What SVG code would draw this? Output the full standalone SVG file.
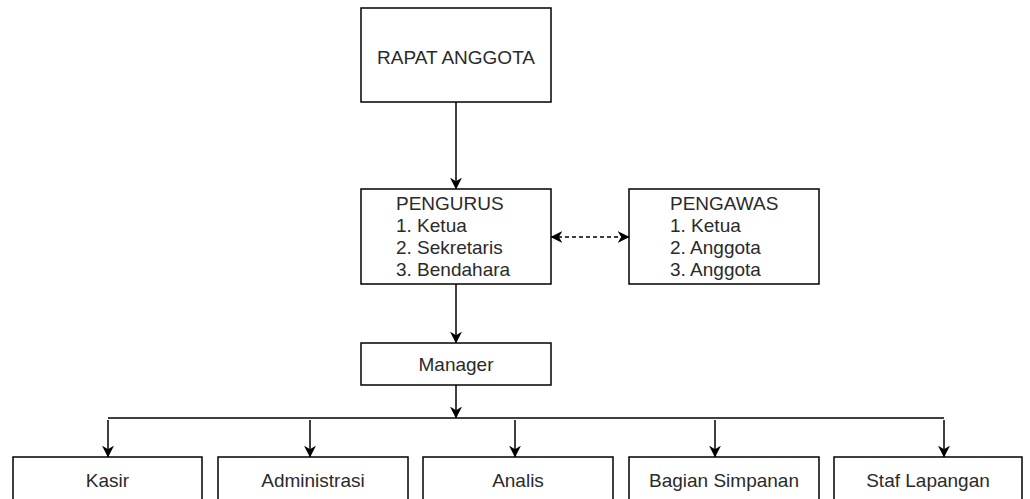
<svg xmlns="http://www.w3.org/2000/svg" width="1030" height="499" viewBox="0 0 1030 499">
<style>
.box{fill:#fff;stroke:#000;stroke-width:1.5}
.t{font-family:"Liberation Sans",Arial,sans-serif;font-size:19px;fill:#2a2a2a}
.c{text-anchor:middle}
.ln{fill:none;stroke:#000;stroke-width:1.5}
</style>
<defs>
<marker id="arr" viewBox="0 0 10 10" refX="9.5" refY="5" markerWidth="12" markerHeight="12" markerUnits="userSpaceOnUse" orient="auto-start-reverse">
<path d="M0,0 L10,5 L0,10 L3,5 z" fill="#000"/>
</marker>
</defs>
<rect width="1030" height="499" fill="#fff"/>
<g id="connectors">
<path class="ln" d="M456,102 V189" marker-end="url(#arr)"/>
<path class="ln" d="M456,284 V343" marker-end="url(#arr)"/>
<path class="ln" d="M456,385 V418" marker-end="url(#arr)"/>
<path class="ln" d="M108,418 H944"/>
<path class="ln" d="M108,420 V457" marker-end="url(#arr)"/>
<path class="ln" d="M310,420 V457" marker-end="url(#arr)"/>
<path class="ln" d="M515,420 V457" marker-end="url(#arr)"/>
<path class="ln" d="M715,420 V457" marker-end="url(#arr)"/>
<path class="ln" d="M944,420 V457" marker-end="url(#arr)"/>
<path class="ln" d="M551,237 H629" stroke-dasharray="4 3" marker-start="url(#arr)" marker-end="url(#arr)"/>
</g>
<g id="rapat">
<rect class="box" x="361" y="8" width="190" height="94"/>
<text class="t c" x="456" y="64">RAPAT ANGGOTA</text>
</g>
<g id="pengurus">
<rect class="box" x="361" y="189" width="190" height="95"/>
<text class="t" x="396" y="210">PENGURUS</text>
<text class="t" x="396" y="232">1. Ketua</text>
<text class="t" x="396" y="254">2. Sekretaris</text>
<text class="t" x="396" y="276">3. Bendahara</text>
</g>
<g id="pengawas">
<rect class="box" x="629" y="189" width="190" height="95"/>
<text class="t" x="670" y="210">PENGAWAS</text>
<text class="t" x="670" y="232">1. Ketua</text>
<text class="t" x="670" y="254">2. Anggota</text>
<text class="t" x="670" y="276">3. Anggota</text>
</g>
<g id="manager">
<rect class="box" x="361" y="343" width="190" height="42"/>
<text class="t c" x="456" y="371">Manager</text>
</g>
<g id="kasir">
<rect class="box" x="13" y="457" width="189" height="60"/>
<text class="t c" x="107.5" y="487">Kasir</text>
</g>
<g id="administrasi">
<rect class="box" x="218" y="457" width="190" height="60"/>
<text class="t c" x="313" y="487">Administrasi</text>
</g>
<g id="analis">
<rect class="box" x="423" y="457" width="190" height="60"/>
<text class="t c" x="518" y="487">Analis</text>
</g>
<g id="bagian-simpanan">
<rect class="box" x="629" y="457" width="190" height="60"/>
<text class="t c" x="724" y="487">Bagian Simpanan</text>
</g>
<g id="staf-lapangan">
<rect class="box" x="834" y="457" width="188" height="60"/>
<text class="t c" x="928" y="487">Staf Lapangan</text>
</g>
</svg>
